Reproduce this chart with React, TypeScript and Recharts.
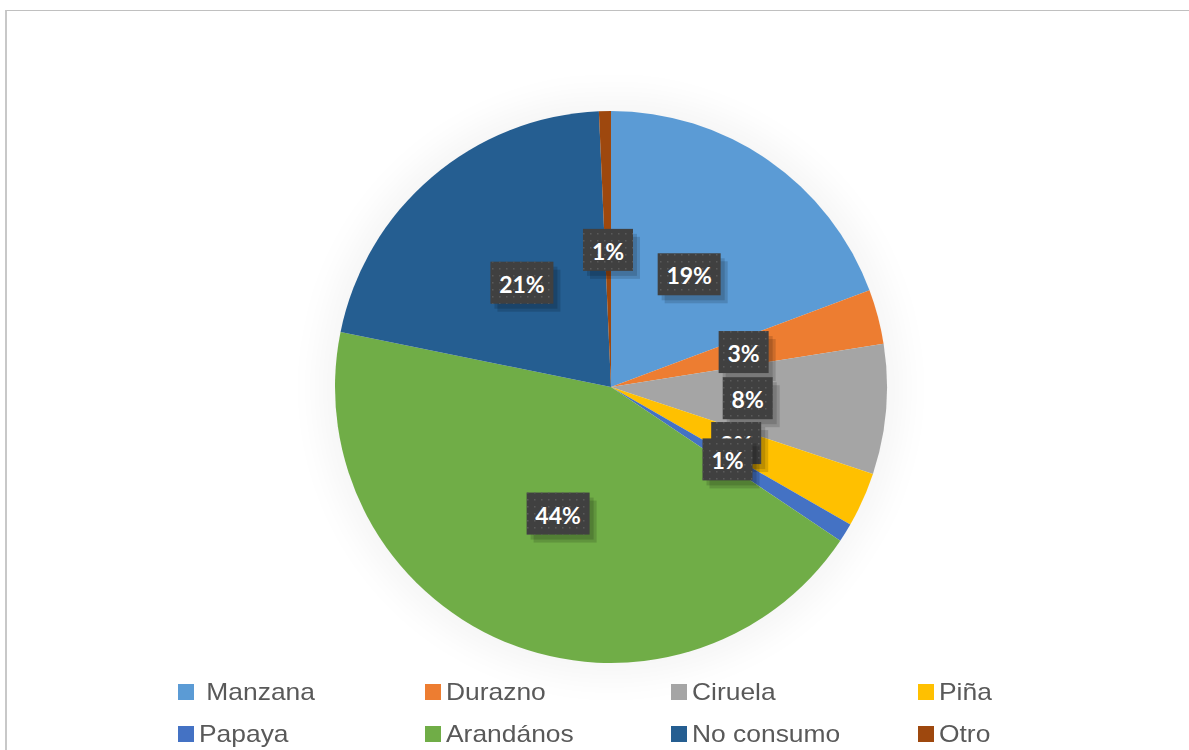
import { PieChart, Pie, Cell, Legend } from "recharts"

const fruits = ["Manzana", "Durazno", "Ciruela", "Piña", "Papaya", "Arandános", "No consumo", "Otro"]
const shares = [19.3, 3.2, 7.6, 3.2, 1.1, 43.8, 21.1, 0.7]
const colors = ["#5B9BD5", "#ED7D31", "#A5A5A5", "#FFC000", "#4472C4", "#70AD47", "#255E91", "#9E480E"]
const legendLabels = [" Manzana", "Durazno", "Ciruela", "Piña", "Papaya", "Arandános", "No consumo", "Otro"]

const data = fruits.map((name, i) => ({ name, value: shares[i] }))

const RAD = Math.PI / 180

const renderLabel = (props: any) => {
  const { cx, cy, midAngle, outerRadius, percent } = props
  const r = outerRadius * 0.497
  const x = cx + r * Math.cos(-midAngle * RAD)
  const y = cy + r * Math.sin(-midAngle * RAD)
  const text = `${((percent ?? 0) * 100).toFixed(0)}%`
  const w = 17 + (text.length - 1) * 13 + 20
  const h = 42
  return (
    <g>
      <rect x={x - w / 2 + 7} y={y - h / 2 + 8} width={w} height={h} fill="#000" opacity={0.14} />
      <rect x={x - w / 2 + 4} y={y - h / 2 + 5} width={w} height={h} fill="#000" opacity={0.14} />
      <rect x={x - w / 2} y={y - h / 2} width={w} height={h} fill="#404040" />
      <rect x={x - w / 2} y={y - h / 2} width={w} height={h} fill="url(#dots)" />
      <text
        x={x}
        y={y + 1}
        fill="#fff"
        textAnchor="middle"
        dominantBaseline="central"
        fontFamily="Lato, sans-serif"
        fontWeight={700}
        fontSize={23}
      >
        {text}
      </text>
    </g>
  )
}

const renderLegend = () => (
  <div style={{ position: "relative", width: 1189, height: 80 }}>
    {legendLabels.map((label, i) => {
      const col = i % 4
      const row = Math.floor(i / 4)
      const left = 178 + col * 246.7
      const top = row * 42
      return (
        <div
          key={label}
          style={{
            position: "absolute",
            left,
            top,
            height: 30,
            display: "flex",
            alignItems: "center",
            fontFamily: "'Liberation Sans', Arial, sans-serif",
            fontSize: 24,
            color: "#595959",
            whiteSpace: "pre",
          }}
        >
          <span style={{ width: 16, height: 16, background: colors[i], display: "inline-block", marginRight: 5 }} />
          <span style={{ display: "inline-block", transform: "scaleX(1.1)", transformOrigin: "left center" }}>
            {label}
          </span>
        </div>
      )
    })}
  </div>
)

export default function App() {
  return (
    <div style={{ position: "absolute", left: 0, top: 0, width: 1189, height: 750, overflow: "hidden", background: "#fff" }}>
      <style>{`.pie-glow { filter: blur(12px); opacity: 0.2; }`}</style>
      <div
        style={{
          position: "absolute",
          left: 5,
          top: 10,
          width: 1300,
          height: 800,
          borderTop: "1px solid #c0c0c0",
          borderLeft: "2px solid #c8c8c8",
        }}
      />
      <div style={{ position: "absolute", left: 0, top: 0 }}>
        <PieChart width={1189} height={750} margin={{ top: 0, right: 0, bottom: 0, left: 0 }}>
          <defs>
            <pattern id="dots" width="7" height="7" patternUnits="userSpaceOnUse">
              <rect x="2" y="2" width="1.5" height="1.5" fill="#5a5a5a" />
            </pattern>
          </defs>
          <Pie
            className="pie-glow"
            data={data}
            dataKey="value"
            cx={611}
            cy={387}
            outerRadius={292}
            startAngle={90}
            endAngle={-270}
            stroke="none"
            fill="#000"
            isAnimationActive={false}
            legendType="none"
          />
          <Pie
            data={data}
            dataKey="value"
            nameKey="name"
            cx={611}
            cy={387}
            outerRadius={276}
            startAngle={90}
            endAngle={-270}
            stroke="none"
            labelLine={false}
            label={renderLabel}
            isAnimationActive={false}
          >
            {data.map((d, i) => (
              <Cell key={d.name} fill={colors[i]} />
            ))}
          </Pie>
          <Legend
            content={renderLegend}
            wrapperStyle={{ position: "absolute", left: 0, top: 677, width: 1189 }}
          />
        </PieChart>
      </div>
    </div>
  )
}
